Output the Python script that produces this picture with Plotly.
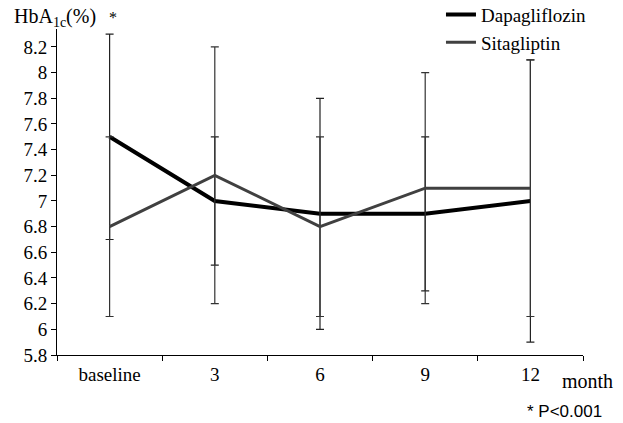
import plotly.graph_objects as go

categories = ["baseline", "3", "6", "9", "12"]
dapa_mean = [7.5, 7.0, 6.9, 6.9, 7.0]
dapa_sd = [0.8, 0.5, 0.9, 0.6, 1.1]
sita_mean = [6.8, 7.2, 6.8, 7.1, 7.1]
sita_sd = [0.7, 1.0, 0.7, 0.9, 1.0]
ytick_vals = [5.8, 6.0, 6.2, 6.4, 6.6, 6.8, 7.0, 7.2, 7.4, 7.6, 7.8, 8.0, 8.2]
ytick_text = ["5.8", "6", "6.2", "6.4", "6.6", "6.8", "7", "7.2", "7.4", "7.6", "7.8", "8", "8.2"]

FONT = "Liberation Serif"

fig = go.Figure()
fig.add_trace(go.Scatter(
    x=categories, y=dapa_mean, mode="lines", name="Dapagliflozin",
    line=dict(color="#000000", width=4),
    error_y=dict(type="data", array=dapa_sd, visible=True, color="#222222", thickness=1.2, width=4),
))
fig.add_trace(go.Scatter(
    x=categories, y=sita_mean, mode="lines", name="Sitagliptin",
    line=dict(color="#404040", width=3),
    error_y=dict(type="data", array=sita_sd, visible=True, color="#333333", thickness=1.2, width=4),
))

fig.update_layout(
    width=623, height=423,
    margin=dict(l=57, r=40, t=29, b=68, autoexpand=False),
    paper_bgcolor="white", plot_bgcolor="white",
    font=dict(family=FONT, size=19, color="#000000"),
    showlegend=True,
    legend=dict(x=0.730, y=1.102, xanchor="left", yanchor="top",
                bgcolor="rgba(0,0,0,0)", font=dict(family=FONT, size=19),
                itemwidth=30, tracegroupgap=0),
    xaxis=dict(type="category", range=[-0.5, 4.5], showgrid=False,
               showline=True, linecolor="#000000", linewidth=1,
               ticks="outside", tickson="boundaries", ticklen=5, tickcolor="#000000",
               ticklabelstandoff=2,
               tickfont=dict(family=FONT, size=19), zeroline=False),
    yaxis=dict(range=[5.8, 8.34], showgrid=False, showline=True, linecolor="#000000",
               linewidth=1, ticks="outside", ticklen=5, tickcolor="#000000",
               tickvals=ytick_vals, ticktext=ytick_text,
               tickfont=dict(family=FONT, size=19), zeroline=False),
    annotations=[
        dict(text="HbA<sub>1c</sub>(%)", xref="paper", yref="paper", x=-0.0856, y=1.034,
             xanchor="left", yanchor="middle", showarrow=False, font=dict(family=FONT, size=20)),
        dict(text="*", xref="x", yref="paper", x="baseline", y=1.034, xshift=3,
             xanchor="center", yanchor="middle", showarrow=False, font=dict(family=FONT, size=16)),
        dict(text="month", xref="paper", yref="paper", x=0.956, y=-0.08,
             xanchor="left", yanchor="middle", showarrow=False, font=dict(family=FONT, size=20)),
        dict(text="* P&lt;0.001", xref="paper", yref="paper", x=0.89, y=-0.172,
             xanchor="left", yanchor="middle", showarrow=False, font=dict(family="Liberation Sans", size=17)),
    ],
)

fig.write_html("out.html", config={"displayModeBar": False},
               post_script="document.body.style.margin='0px';")
